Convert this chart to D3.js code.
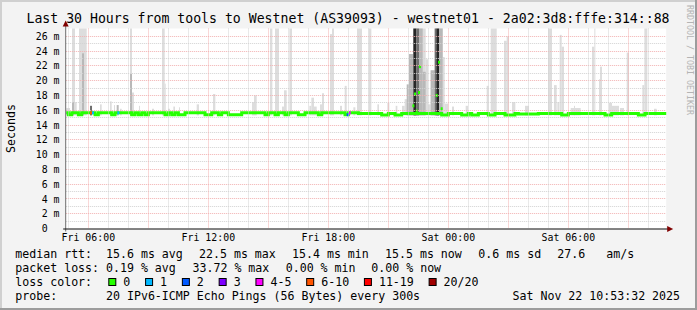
<!DOCTYPE html>
<html>
<head>
<meta charset="utf-8">
<script src="https://cdn.jsdelivr.net/npm/d3@7"></script>
<style>
  body { margin: 0; background: #f3f3f3; }
  svg { display: block; }
  text { font-family: "DejaVu Sans Mono", monospace; fill: #000; }
</style>
</head>
<body>
<div id="chart"></div>
<script>
// ---- data ----
const titleText = "Last 30 Hours from tools to Westnet (AS39093) - westnet01 - 2a02:3d8:fffe:314::88";
const startTime = "Fri 04:53:32";
const endTime = "Sat 10:53:32";

// median rtt (ms), 10 minute bins starting Fri 04:50
const medianStart = "Fri 04:50:00";
const medianStepMin = 10;
const medianMs = [
  15.65,15.4,15.65,15.65,15.4,15.65,
  15.65,15.65,15.65,15.4,15.65,15.65,
  15.65,15.65,15.4,15.65,15.65,15.65,
  15.65,15.65,15.4,15.65,15.4,15.65,
  15.4,15.65,15.65,15.65,15.65,15.65,
  15.4,15.65,15.4,15.65,15.4,15.4,
  15.65,15.65,15.65,15.65,15.65,15.65,
  15.4,15.4,15.65,15.65,15.4,15.65,
  15.65,15.4,15.4,15.4,15.4,15.65,
  15.65,15.65,15.65,15.65,15.65,15.65,
  15.4,15.65,15.65,15.4,15.65,15.65,
  15.4,15.65,15.65,15.65,15.4,15.4,
  15.65,15.65,15.65,15.65,15.4,15.65,
  15.65,15.65,15.65,15.65,15.65,15.65,
  15.4,15.65,15.65,15.65,15.55,15.55,
  15.55,15.55,15.55,15.55,15.55,15.35,
  15.35,15.55,15.55,15.35,15.35,15.55,
  15.55,15.55,15.55,15.55,15.55,15.55,
  15.55,15.55,15.55,15.55,15.55,15.35,
  15.35,15.55,15.55,15.55,15.55,15.35,
  15.35,15.55,15.35,15.35,15.55,15.55,
  15.55,15.35,15.35,15.55,15.55,15.55,
  15.35,15.35,15.35,15.55,15.48,15.48,
  15.48,15.48,15.48,15.48,15.55,15.55,
  15.55,15.55,15.55,15.55,15.55,15.35,
  15.35,15.55,15.55,15.55,15.55,15.55,
  15.55,15.55,15.55,15.55,15.55,15.55,
  15.35,15.35,15.55,15.55,15.55,15.55,
  15.55,15.55,15.55,15.55,15.35,15.35,
  15.55,15.55,15.55,15.55,15.55,15.55,
  15.55
];

// isolated elevated medians during the Fri night burst
const burstMedians = [
  ["Fri 22:12", 16.6], ["Fri 22:17", 18.2], ["Fri 22:22", 15.9], ["Fri 22:29", 18.4],
  ["Fri 22:32", 21.9], ["Fri 23:22", 18.0], ["Fri 23:29", 22.5], ["Fri 23:37", 16.2]
];

// highest pings per interval: [from, to, ms]  (light smoke)
const smokeMax = [
  ["Fri 04:47","Fri 05:05",16.3], ["Fri 05:11","Fri 05:20",30], ["Fri 05:20","Fri 05:25",17.1],
  ["Fri 05:32","Fri 05:55",30], ["Fri 06:35","Fri 06:40",16.8], ["Fri 07:05","Fri 07:10",17.2],
  ["Fri 07:17","Fri 07:20",16.7], ["Fri 07:35","Fri 07:40",16.2], ["Fri 08:05","Fri 08:11",30],
  ["Fri 08:11","Fri 08:17",18.4], ["Fri 08:32","Fri 08:35",16.6], ["Fri 09:11","Fri 09:17",16.2],
  ["Fri 09:41","Fri 09:49",30], ["Fri 09:49","Fri 09:52",19.6], ["Fri 09:59","Fri 10:05",16.2],
  ["Fri 10:15","Fri 10:20",16.5], ["Fri 10:32","Fri 10:35",16.4], ["Fri 11:25","Fri 11:32",16.8],
  ["Fri 12:14","Fri 12:21",18.2], ["Fri 14:11","Fri 14:17",17.1], ["Fri 14:17","Fri 14:25",18.0],
  ["Fri 15:05","Fri 15:12",30], ["Fri 15:20","Fri 15:32",30], ["Fri 15:41","Fri 15:47",16.5],
  ["Fri 15:47","Fri 15:55",18.7], ["Fri 16:03","Fri 16:11",30], ["Fri 17:03","Fri 17:09",16.6],
  ["Fri 17:09","Fri 17:17",17.7], ["Fri 17:17","Fri 17:25",16.5], ["Fri 17:35","Fri 17:41",16.8],
  ["Fri 17:41","Fri 17:47",18.3], ["Fri 18:05","Fri 18:11",26.3], ["Fri 18:11","Fri 18:17",30],
  ["Fri 18:35","Fri 18:41",16.6], ["Fri 18:49","Fri 18:55",19.3], ["Fri 19:15","Fri 19:21",16.4],
  ["Fri 19:26","Fri 19:41",30], ["Fri 20:01","Fri 20:09",30], ["Fri 20:27","Fri 20:32",16.8],
  ["Fri 20:57","Fri 21:03",17.0], ["Fri 21:22","Fri 21:27",16.6], ["Fri 21:41","Fri 21:49",16.6],
  ["Fri 21:49","Fri 22:02",17.5], ["Fri 22:02","Fri 22:14",23.6], ["Fri 22:14","Fri 22:52",30],
  ["Fri 22:52","Fri 22:59",22.9], ["Fri 22:59","Fri 23:07",16.8], ["Fri 23:07","Fri 23:19",21.4],
  ["Fri 23:19","Fri 23:43",30], ["Fri 23:43","Fri 23:49",23.2], ["Fri 23:49","Sat 00:00",16.9],
  ["Sat 00:11","Sat 00:17",16.5], ["Sat 00:52","Sat 00:59",16.6], ["Sat 01:55","Sat 02:01",19.3],
  ["Sat 02:07","Sat 02:25",30], ["Sat 02:47","Sat 02:55",25.4], ["Sat 02:55","Sat 03:02",26.0],
  ["Sat 03:11","Sat 03:21",17.1], ["Sat 03:50","Sat 04:02",16.6], ["Sat 04:59","Sat 05:11",30],
  ["Sat 05:17","Sat 05:25",19.4], ["Sat 05:27","Sat 05:33",17.1], ["Sat 05:34","Sat 05:40",26.2],
  ["Sat 05:40","Sat 05:47",24.6], ["Sat 06:07","Sat 06:37",16.3], ["Sat 06:17","Sat 06:20",16.6],
  ["Sat 07:11","Sat 07:18",24.6], ["Sat 07:18","Sat 07:21",30], ["Sat 07:32","Sat 07:35",20.2],
  ["Sat 07:35","Sat 07:41",21.9], ["Sat 08:02","Sat 08:11",17.0], ["Sat 08:11","Sat 08:32",16.6],
  ["Sat 08:35","Sat 08:47",16.3], ["Sat 08:55","Sat 09:02",23.8], ["Sat 09:42","Sat 09:48",19.4],
  ["Sat 09:48","Sat 09:57",30], ["Sat 10:17","Sat 10:25",16.2]
];

// denser smoke: [from, to, ms, density 1..3]
const smokeDense = [
  ["Fri 05:11","Fri 05:17",17.1,1], ["Fri 05:41","Fri 05:47",23.7,1], ["Fri 06:05","Fri 06:11",16.6,2],
  ["Fri 07:25","Fri 07:31",16.7,1], ["Fri 08:05","Fri 08:11",20.9,1],
  ["Fri 21:55","Fri 22:02",19.5,1], ["Fri 22:02","Fri 22:14",23.6,1],
  ["Fri 22:15","Fri 22:24",30,3], ["Fri 22:24","Fri 22:32",30,2],
  ["Fri 22:32","Fri 22:43",30,1], ["Fri 22:43","Fri 22:52",21.2,1], ["Fri 23:07","Fri 23:19",21.4,1],
  ["Fri 23:19","Fri 23:24",30,2], ["Fri 23:24","Fri 23:32",30,3], ["Fri 23:32","Fri 23:43",30,1]
];

// lost packets (of 20) per interval
const lossEvents = [
  ["Fri 06:05","Fri 06:11",8], ["Fri 06:11","Fri 06:17",1], ["Fri 07:27","Fri 07:33",1],
  ["Fri 18:55","Fri 19:02",2], ["Fri 19:02","Fri 19:07",4]
];

const lossLabels = ["0", "1", "2", "3", "4-5", "6-10", "11-19", "20/20"];
const lossColors = ["#26ff00", "#00b8ff", "#0059ff", "#7e00ff", "#ff00ff", "#ff5500", "#ff0000", "#a00000"];
const lossBreaks = [1, 2, 3, 4, 6, 11, 20];

const rttLine = ["15.6 ms avg", "22.5 ms max", "15.4 ms min", "15.5 ms now", "0.6 ms sd", "27.6", "am/s"];
const lossLine = ["0.19 % avg", "33.72 % max", "0.00 % min", "0.00 % now"];
const probeText = "20 IPv6-ICMP Echo Pings (56 Bytes) every 300s";
const stampText = "Sat Nov 22 10:53:32 2025";
const yMaxMs = 27.06;

// ---- layout ----
const W = 697, H = 310;
const plot = { left: 66.2, right: 666.2, top: 28.5, bottom: 228.5 };
const rttCols = [106, 199, 292, 385, 478.3, 557.3, 606.3];
const lossCols = [106, 192.5, 285.7, 371.3];

const dayDate = { Fri: "2025-11-21", Sat: "2025-11-22" };
const parseStamp = d3.timeParse("%Y-%m-%d %H:%M:%S");
const T = s => {
  const [d, hm] = s.split(" ");
  return parseStamp(`${dayDate[d]} ${hm.length === 5 ? hm + ":00" : hm}`);
};

const svg = d3.select('#chart')
  .append('svg')
    .attr('width', W)
    .attr('height', H);

svg.append('rect').attr('width', W).attr('height', H).attr('fill', '#f3f3f3');
// 3d frame
svg.append('path').attr('d', `M0,0H${W}V2H2V${H}H0Z`).attr('fill', '#d0d0d0');
svg.append('path').attr('d', `M${W},${H}H0V${H - 2}H${W - 2}V0H${W}Z`).attr('fill', '#9c9c9c');

const x = d3.scaleTime()
  .domain([T(startTime), T(endTime)])
  .range([plot.left, plot.right]);

const y = d3.scaleLinear()
  .domain([0, yMaxMs])
  .range([plot.bottom, plot.top]);

svg.append('rect')
  .attr('x', plot.left).attr('y', plot.top)
  .attr('width', plot.right - plot.left).attr('height', plot.bottom - plot.top)
  .attr('fill', '#fff');

svg.append('clipPath').attr('id', 'clip')
  .append('rect')
    .attr('x', plot.left).attr('y', plot.top)
    .attr('width', plot.right - plot.left).attr('height', plot.bottom - plot.top);

const g = svg.append('g').attr('clip-path', 'url(#clip)');
const smokeFloor = 15.3;

g.selectAll('.smoke')
  .data(smokeMax)
  .enter()
  .append('rect')
    .attr('class', 'smoke')
    .attr('x', d => x(T(d[0])))
    .attr('width', d => Math.max(1, x(T(d[1])) - x(T(d[0]))))
    .attr('y', d => y(d[2]))
    .attr('height', d => y(smokeFloor) - y(d[2]))
    .attr('fill', '#dddddd');

const denseFill = ['#b8b8b8', '#6e6e6e', '#262626'];
g.selectAll('.dense')
  .data(smokeDense)
  .enter()
  .append('rect')
    .attr('class', 'dense')
    .attr('x', d => x(T(d[0])))
    .attr('width', d => Math.max(1, x(T(d[1])) - x(T(d[0]))))
    .attr('y', d => y(d[2]))
    .attr('height', d => y(smokeFloor) - y(d[2]))
    .attr('fill', d => denseFill[d[3] - 1]);

// grid
const crisp = v => Math.round(v - 0.5) + 0.5;
const redGrid = '#f2b0b0', greyGrid = '#d2d2d2';
const grid = svg.append('g');
d3.range(1, 27).forEach(v => {
  grid.append('line')
    .attr('x1', plot.left).attr('x2', plot.right)
    .attr('y1', crisp(y(v))).attr('y2', crisp(y(v)))
    .attr('stroke', v % 2 === 0 ? redGrid : greyGrid)
    .attr('stroke-dasharray', '1,1');
});
d3.timeHour.range(T(startTime), T(endTime)).forEach(h => {
  const major = h.getHours() % 3 === 0;
  grid.append('line')
    .attr('x1', crisp(x(h))).attr('x2', crisp(x(h)))
    .attr('y1', plot.top).attr('y2', plot.bottom)
    .attr('stroke', major ? redGrid : greyGrid)
    .attr('stroke-dasharray', '1,1');
});

// median band
const medianPts = medianMs.map((v, i) => [d3.timeMinute.offset(T(medianStart), i * medianStepMin), v]);
medianPts.push([d3.timeMinute.offset(T(medianStart), medianMs.length * medianStepMin), medianMs[medianMs.length - 1]]);
const medianLine = d3.line()
  .x(d => x(d[0]))
  .y(d => y(d[1]))
  .curve(d3.curveStepAfter);
g.append('path')
  .datum(medianPts)
  .attr('d', medianLine)
  .attr('fill', 'none')
  .attr('stroke', lossColors[0])
  .attr('stroke-width', 3);

g.selectAll('.burst')
  .data(burstMedians)
  .enter()
  .append('rect')
    .attr('class', 'burst')
    .attr('x', d => x(T(d[0])))
    .attr('width', 2)
    .attr('y', d => y(d[1]) - 1.5)
    .attr('height', 3)
    .attr('fill', lossColors[0]);

const lossColor = d3.scaleThreshold().domain(lossBreaks).range(lossColors);
const medianAt = t => medianMs[Math.max(0, Math.min(medianMs.length - 1, Math.floor((t - T(medianStart)) / 60000 / medianStepMin)))];
g.selectAll('.loss')
  .data(lossEvents)
  .enter()
  .append('rect')
    .attr('class', 'loss')
    .attr('x', d => x(T(d[0])))
    .attr('width', d => x(T(d[1])) - x(T(d[0])))
    .attr('y', d => y(medianAt(T(d[0]))) - 1.5)
    .attr('height', 3)
    .attr('fill', d => lossColor(d[2]));

// axes
svg.append('line')
  .attr('x1', plot.left - 0.5).attr('x2', plot.left - 0.5)
  .attr('y1', plot.bottom + 3).attr('y2', plot.top - 4)
  .attr('stroke', '#6e6e6e');
svg.append('line')
  .attr('x1', plot.left - 3).attr('x2', plot.right + 3)
  .attr('y1', plot.bottom + 0.5).attr('y2', plot.bottom + 0.5)
  .attr('stroke', '#101010').attr('stroke-width', 1.2);
svg.append('path')
  .attr('d', `M${plot.left - 0.5},${plot.top - 8}l-3,6h6z`)
  .attr('fill', '#800000');
svg.append('path')
  .attr('d', `M${plot.right + 7},${plot.bottom + 0.5}l-6,-3v6z`)
  .attr('fill', '#800000');

// y labels
svg.selectAll('.ylab')
  .data(d3.range(0, 27, 2))
  .enter()
  .append('text')
    .attr('class', 'ylab')
    .attr('x', 59.5)
    .attr('y', d => y(d))
    .attr('dy', '0.36em')
    .attr('text-anchor', 'end')
    .style('font-size', '9.9px')
    .style('white-space', 'pre')
    .text(d => d === 0 ? '0  ' : `${d} m`);

// x labels
const fmt = d3.timeFormat('%a %H:%M');
svg.selectAll('.xlab')
  .data(d3.timeHour.every(6).range(T(startTime), T(endTime)))
  .enter()
  .append('text')
    .attr('class', 'xlab')
    .attr('x', d => x(d))
    .attr('y', 241)
    .attr('text-anchor', 'middle')
    .style('font-size', '9.9px')
    .text(fmt);

svg.append('text')
  .attr('x', 348).attr('y', 23)
  .attr('text-anchor', 'middle')
  .style('font-size', '13.2px')
  .text(titleText);

svg.append('text')
  .attr('transform', `translate(14.5,${(plot.top + plot.bottom) / 2}) rotate(-90)`)
  .attr('text-anchor', 'middle')
  .style('font-size', '11.6px')
  .text('Seconds');

svg.append('text')
  .attr('transform', 'translate(686.5,5) rotate(90)')
  .attr('textLength', 110)
  .attr('lengthAdjust', 'spacing')
  .style('font-size', '8.3px')
  .style('fill', '#b4b4b4')
  .text('RRDTOOL / TOBI OETIKER');

// legend
const legend = svg.append('g').style('font-size', '11.6px');
const rows = [258, 272, 286, 300];
legend.append('text').attr('x', 15.3).attr('y', rows[0]).text('median rtt:');
rttLine.forEach((s, i) => legend.append('text').attr('x', rttCols[i]).attr('y', rows[0]).text(s));
legend.append('text').attr('x', 15.3).attr('y', rows[1]).text('packet loss:');
lossLine.forEach((s, i) => legend.append('text').attr('x', lossCols[i]).attr('y', rows[1]).text(s));
legend.append('text').attr('x', 15.3).attr('y', rows[2]).text('loss color:');
let bx = 108.3;
lossLabels.forEach((lab, i) => {
  legend.append('rect')
    .attr('x', bx + 0.5).attr('y', rows[2] - 7.5)
    .attr('width', 7).attr('height', 7)
    .attr('fill', lossColors[i])
    .attr('stroke', '#000');
  const t = legend.append('text').attr('x', bx + 15).attr('y', rows[2]).text(lab);
  bx = bx + 15 + t.node().getComputedTextLength() + 14.8;
});
legend.append('text').attr('x', 15.3).attr('y', rows[3]).text('probe:');
legend.append('text').attr('x', 106).attr('y', rows[3]).text(probeText);
legend.append('text').attr('x', 512.5).attr('y', rows[3]).text(stampText);
</script>
</body>
</html>
